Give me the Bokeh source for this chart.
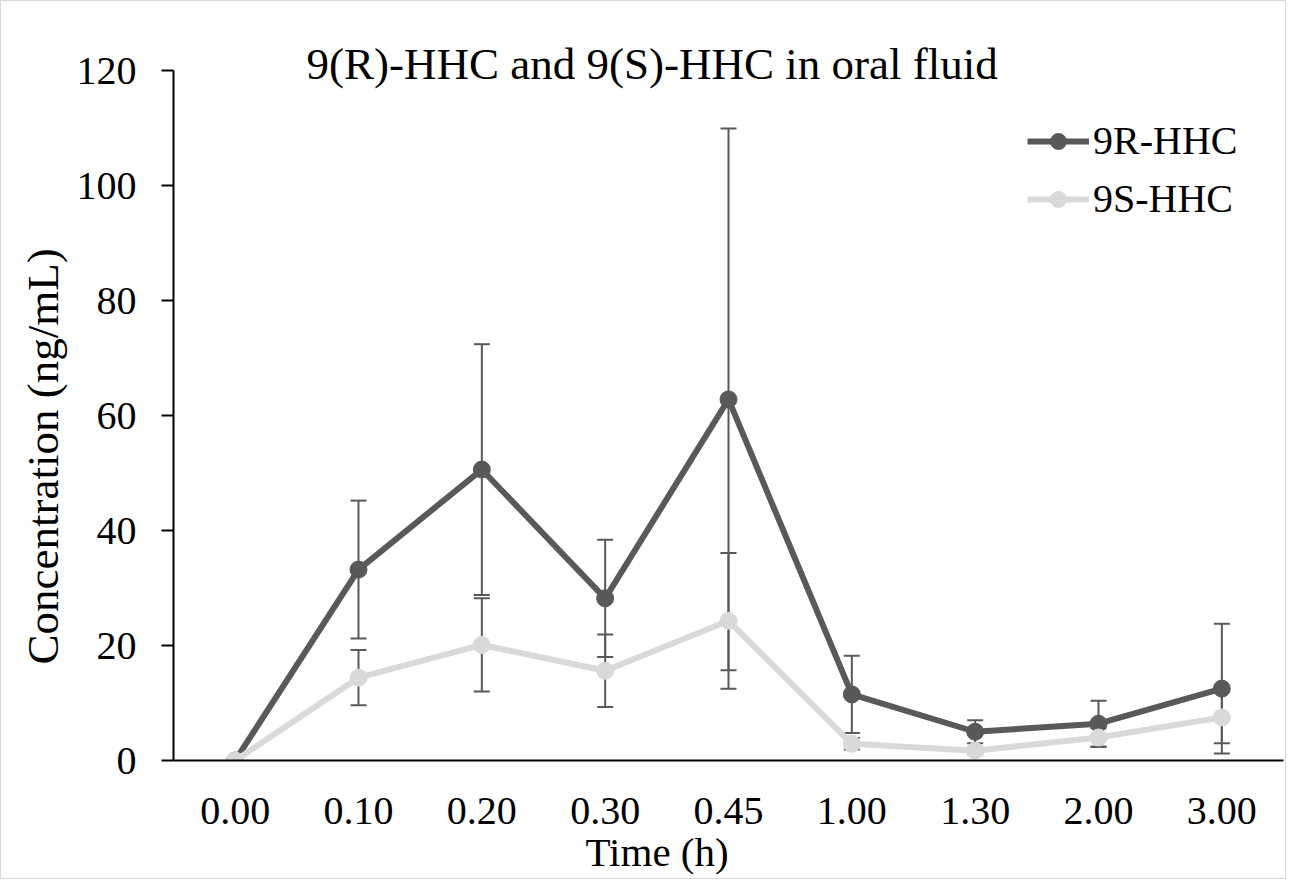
from bokeh.plotting import figure
from bokeh.models import ColumnDataSource, Whisker, TeeHead, Legend, LegendItem, Range1d, FixedTicker, Title
from bokeh.embed import file_html
from bokeh.resources import INLINE

times = ["0.00", "0.10", "0.20", "0.30", "0.45", "1.00", "1.30", "2.00", "3.00"]
r_mean = [0, 33.2, 50.6, 28.2, 62.8, 11.5, 5.0, 6.4, 12.5]
r_err = [0, 12.0, 21.8, 10.2, 47.1, 6.7, 2.0, 4.0, 11.3]
s_mean = [0, 14.4, 20.1, 15.6, 24.3, 2.9, 1.7, 4.0, 7.5]
s_err = [0, 4.8, 8.1, 6.3, 11.8, 1.0, 0.6, 1.6, 4.5]

FONT = "Liberation Serif"
DARK = "#595959"
LIGHT = "#d9d9d9"

p = figure(width=1286, height=879, x_range=times, y_range=Range1d(0, 120),
           output_backend="svg", toolbar_location=None,
           min_border_left=172, min_border_right=4, min_border_top=69, min_border_bottom=120)
p.outline_line_color = None
p.xgrid.grid_line_color = None
p.ygrid.grid_line_color = None
p.styles = {"border": "1px solid #d9d9d9"}

p.yaxis.ticker = FixedTicker(ticks=[0, 20, 40, 60, 80, 100, 120])
for ax in (p.xaxis, p.yaxis):
    ax.axis_line_color = "black"
    ax.axis_line_width = 2
    ax.major_label_text_font = FONT
    ax.major_label_text_font_size = "40px"
    ax.major_label_text_color = "black"
    ax.minor_tick_line_color = None
p.yaxis.major_tick_out = 12
p.yaxis.major_tick_in = 0
p.yaxis.major_tick_line_color = "black"
p.yaxis.major_tick_line_width = 2
p.yaxis.major_label_standoff = 25
p.xaxis.major_tick_line_color = None
p.xaxis.major_tick_out = 0
p.xaxis.major_tick_in = 0
p.xaxis.major_label_standoff = 37

src = ColumnDataSource(dict(
    t=times, r=r_mean, s=s_mean,
    r_lo=[m - e for m, e in zip(r_mean, r_err)], r_hi=[m + e for m, e in zip(r_mean, r_err)],
    s_lo=[m - e for m, e in zip(s_mean, s_err)], s_hi=[m + e for m, e in zip(s_mean, s_err)],
))

for lo, hi in (("r_lo", "r_hi"), ("s_lo", "s_hi")):
    w = Whisker(source=src, base="t", lower=lo, upper=hi, line_color=DARK, line_width=2,
                upper_head=TeeHead(size=16, line_color=DARK, line_width=2),
                lower_head=TeeHead(size=16, line_color=DARK, line_width=2))
    p.add_layout(w)

r_line = p.line("t", "r", source=src, line_color=DARK, line_width=6)
r_pts = p.scatter("t", "r", source=src, size=17, fill_color=DARK, line_color=DARK)
s_line = p.line("t", "s", source=src, line_color=LIGHT, line_width=6)
s_pts = p.scatter("t", "s", source=src, size=17, fill_color=LIGHT, line_color=LIGHT)

legend = Legend(items=[LegendItem(label="9R-HHC", renderers=[r_line, r_pts]),
                       LegendItem(label="9S-HHC", renderers=[s_line, s_pts])],
                location=(854, 538), glyph_width=62, glyph_height=40, label_standoff=4,
                label_height=40, spacing=11, padding=0, margin=0,
                label_text_font=FONT, label_text_font_size="40px", label_text_color="black",
                border_line_color=None, background_fill_alpha=0)
p.add_layout(legend)

p.add_layout(Title(text="9(R)-HHC and 9(S)-HHC in oral fluid", text_font=FONT,
                   text_font_size="45px", text_font_style="normal", text_color="black",
                   align="left", offset=133, standoff=-37), "above")
p.add_layout(Title(text="Time (h)", text_font=FONT, text_font_size="41px",
                   text_font_style="normal", text_color="black",
                   align="left", offset=412, standoff=0), "below")
p.add_layout(Title(text="Concentration (ng/mL)", text_font=FONT, text_font_size="45px",
                   text_font_style="normal", text_color="black",
                   align="left", offset=96, standoff=11), "left")

open("out.html", "w").write(file_html(p, INLINE))
